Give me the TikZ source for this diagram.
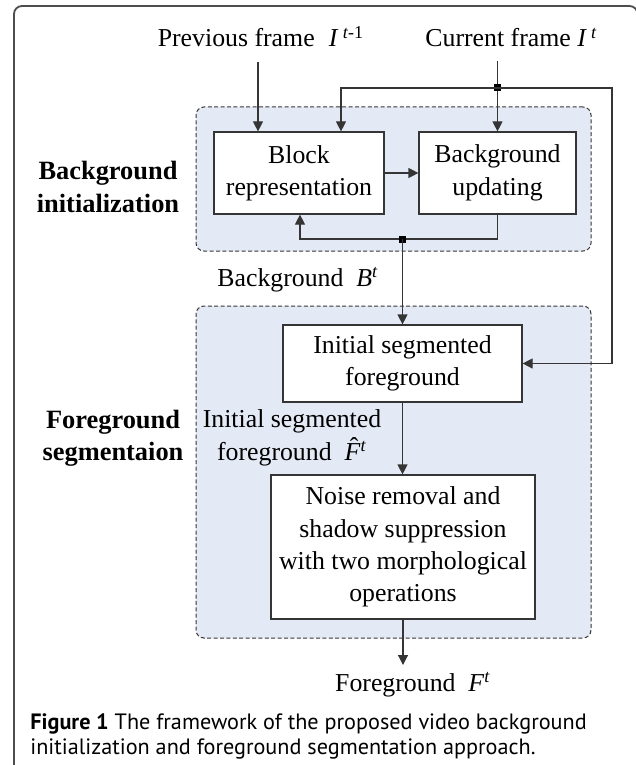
\documentclass[tikz,border=0pt]{standalone}
\usepackage{fontspec}
\setmainfont{Liberation Serif}
\newfontfamily\capfont{PT Sans}
\usetikzlibrary{arrows.meta}
\definecolor{grpfill}{HTML}{E4EAF5}
\definecolor{linegray}{HTML}{353535}
\definecolor{framegray}{HTML}{4D4D4D}
% italic F with a circumflex set above it
\newcommand{\hatF}{\rlap{\hspace{0.2em}\raisebox{0.2em}{\char"02C6}}\textit{F}}
\begin{document}
\begin{tikzpicture}[x=0.5pt,y=-0.5pt,
  font=\fontsize{12.9}{16.2}\selectfont,
  box/.style={draw=linegray, line width=0.6pt, fill=white, align=center, inner sep=0pt},
  grp/.style={draw=linegray, dash pattern=on 2pt off 1.2pt, line width=0.5pt,
    fill=grpfill, rounded corners=4pt, inner sep=0pt},
  arr/.style={draw=linegray, line width=0.6pt, -{Triangle[length=5pt,width=5pt]}},
  dot/.style={fill=black, rectangle, minimum size=3.5pt, inner sep=0pt},
  lbl/.style={font=\fontsize{13.2}{16.2}\selectfont\bfseries, align=center},
]
\useasboundingbox (0,0) rectangle (636,765);

% outer frame of the figure
\draw[framegray, line width=0.9pt, rounded corners=4pt]
  (14,770) -- (14,6) -- (637.5,6) -- (637.5,770);

% dashed stage groups
\node[grp, minimum width=197.5pt, minimum height=72pt] (topgrp) at (393.5,179) {};
\node[grp, minimum width=197.5pt, minimum height=166pt] (lowgrp) at (393.5,472) {};

% processing blocks
\node[box, minimum width=85pt, minimum height=41pt] (block) at (299,173) {Block\\representation};
\node[box, minimum width=78.5pt, minimum height=41pt] (bgupd) at (497.5,173) {Background\\updating};
\node[box, minimum width=119.5pt, minimum height=38.5pt] (initseg) at (402.5,363.5) {Initial segmented\\foreground};
\node[box, minimum width=132pt, minimum height=72pt] (noise) at (403,547)
  {Noise removal and\\shadow suppression\\with two morphological\\operations};

% inputs, outputs and intermediate labels
\node[anchor=base] (prev) at (261,47) {Previous frame\hspace{0.55em}\textit{I}\,\textsuperscript{\textit{t}-1}};
\node[anchor=base] (cur) at (511.5,47) {Current frame \textit{I}\,\textsuperscript{\textit{t}}};
\node[anchor=base] (bglab) at (298,286) {Background\hspace{0.5em}\textit{B}\textsuperscript{\textit{t}}};
\node[align=center] (islab) at (292,438) {Initial segmented\\foreground\hspace{0.5em}\hatF\textsuperscript{\textit{t}}};
\node[anchor=base] (fglab) at (413,691) {Foreground\hspace{0.5em}\textit{F}\textsuperscript{\textit{t}}};

% stage names
\node[lbl] (bilab) at (108,187) {Background\\initialization};
\node[lbl] (fslab) at (113,438) {Foreground\\segmentaion};

% caption
\node[anchor=north west, align=left, inner sep=0pt,
  font=\capfont\fontsize{11.1}{12.5}\selectfont] (cap) at (30,713)
  {\textbf{Figure 1} The framework of the proposed video background\\
   initialization and foreground segmentation approach.};

% connectors
\coordinate (p0) at (258,62);
\coordinate (c0) at (497.5,61);
\coordinate (lb) at (341,88);
\coordinate (rb) at (612,88);
\coordinate (fb) at (300,239);
\coordinate (fe) at (403,665);

\draw[arr] (p0) -- (p0 |- block.north);
\draw[arr] (c0) -- (bgupd.north);
\node[dot] (j1) at (497.5,88) {};
\draw[arr] (j1.center) -- (lb) -- (lb |- block.north);
\draw[arr] (j1.center) -- (rb) -- (rb |- initseg.east) -- (initseg.east);
\draw[arr] (block.east) -- (block.east -| bgupd.west);
\draw[arr] (bgupd.south) -- (bgupd.south |- fb) -- (fb) -- (fb |- block.south);
\node[dot] (j2) at (402.5,239) {};
\draw[arr] (j2.center) -- (initseg.north);
\draw[arr] (initseg.south) -- (initseg.south |- noise.north);
\draw[arr] (noise.south) -- (noise.south |- fe);
\end{tikzpicture}
\end{document}
